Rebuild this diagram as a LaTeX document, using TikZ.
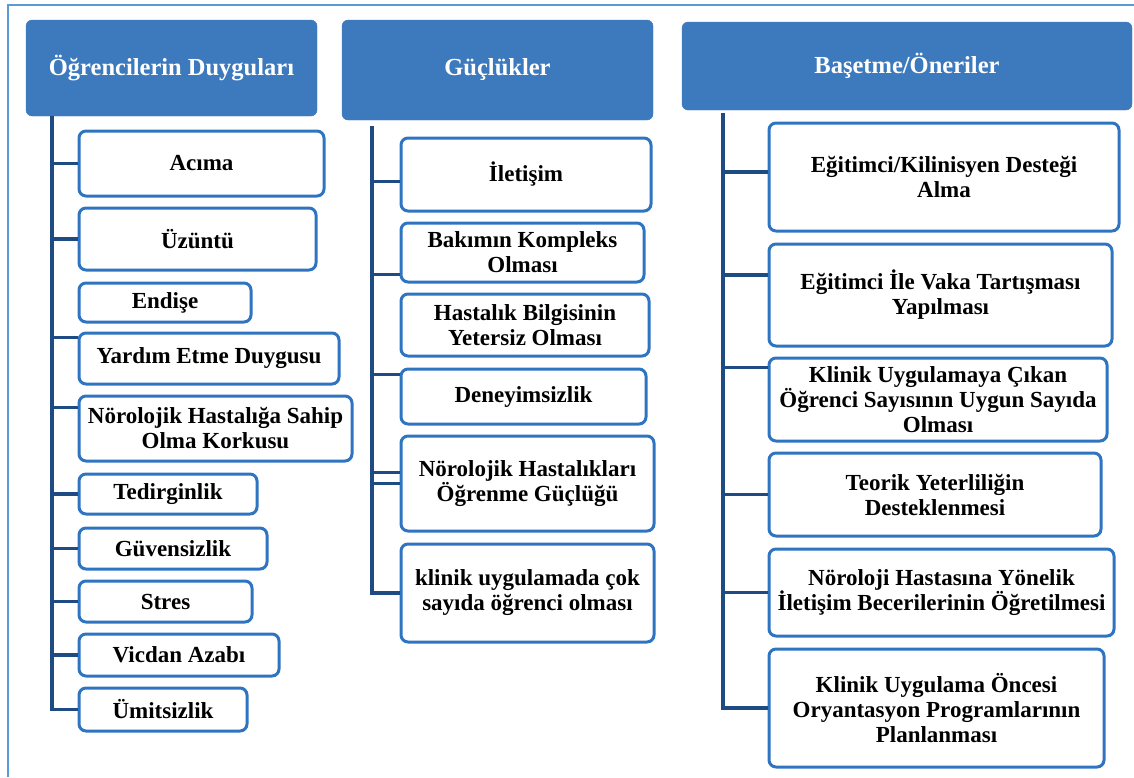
\documentclass[tikz,border=0pt]{standalone}
\usepackage{fontspec}
\setmainfont{Liberation Serif}
\usepackage{tikz}
\usetikzlibrary{positioning}
\definecolor{headblue}{HTML}{3C79BD}
\definecolor{boxblue}{HTML}{2E74C1}
\definecolor{treeblue}{HTML}{1F4B84}
\definecolor{frameblue}{HTML}{5B9BD5}

\begin{document}
\begin{tikzpicture}[x=1pt,y=-1pt,
    head/.style={draw=headblue,fill=headblue,rounded corners=6pt,text=white,font=\fontsize{24.5}{26}\selectfont\bfseries,align=center,inner sep=2pt},
    item/.style={draw=boxblue,line width=3pt,fill=white,rounded corners=7pt,font=\fontsize{23}{25}\selectfont\bfseries,align=center,inner sep=2pt},
    tree/.style={draw=treeblue,line width=3.5pt}]
    \useasboundingbox (0,0) rectangle (1134,777);
    \draw [frameblue,line width=1.2pt] (8,777) -- (8,5) -- (1134,5);

    % headings
    \node (h1) at (171.5,68) [head,minimum width=291pt,minimum height=96pt] {Öğrencilerin Duyguları};
    \node (h2) at (497.5,70) [head,minimum width=311pt,minimum height=100pt] {Güçlükler};
    \node (h3) at (907,66) [head,minimum width=450pt,minimum height=88pt] {Başetme/Öneriler};

    % feelings
    \node (acima) at (201.5,163.5) [item,minimum width=245pt,minimum height=65pt] {Acıma};
    \node (uzuntu) at (197.5,239) [item,minimum width=237pt,minimum height=62pt] {Üzüntü};
    \node (endise) at (165,302.5) [item,minimum width=172pt,minimum height=39pt] {Endişe};
    \node (yardim) at (209,358.5) [item,minimum width=260pt,minimum height=51pt] {Yardım Etme Duygusu};
    \node (korku) at (215.5,428.5) [item,minimum width=273pt,minimum height=65pt] {Nörolojik Hastalığa Sahip\\Olma Korkusu};
    \node (tedirgin) at (168,494) [item,minimum width=178pt,minimum height=40pt] {Tedirginlik};
    \node (guvensiz) at (173,548.5) [item,minimum width=188pt,minimum height=41pt] {Güvensizlik};
    \node (stres) at (165.5,601.5) [item,minimum width=173pt,minimum height=41pt] {Stres};
    \node (vicdan) at (179,655) [item,minimum width=200pt,minimum height=42pt] {Vicdan Azabı};
    \node (umitsiz) at (163,709.5) [item,minimum width=168pt,minimum height=43pt] {Ümitsizlik};

    % difficulties
    \node (iletisim) at (526,174.5) [item,minimum width=250pt,minimum height=73pt] {İletişim};
    \node (bakim) at (522.5,252.5) [item,minimum width=243pt,minimum height=59pt] {Bakımın Kompleks\\Olması};
    \node (bilgi) at (525,325) [item,minimum width=248pt,minimum height=62pt] {Hastalık Bilgisinin\\Yetersiz Olması};
    \node (deneyim) at (523.5,396.5) [item,minimum width=245pt,minimum height=55pt] {Deneyimsizlik};
    \node (ogrenme) at (527.5,483.5) [item,minimum width=253pt,minimum height=95pt] {Nörolojik Hastalıkları\\Öğrenme Güçlüğü};
    \node (kalabalik) at (527.5,593) [item,minimum width=253pt,minimum height=98pt] {klinik uygulamada çok\\sayıda öğrenci olması};

    % coping / suggestions
    \node (destek) at (944,177) [item,minimum width=350pt,minimum height=108pt] {Eğitimci/Kilinisyen Desteği\\Alma};
    \node (vaka) at (940.5,295) [item,minimum width=343pt,minimum height=102pt] {Eğitimci İle Vaka Tartışması\\Yapılması};
    \node (sayi) at (938,399.5) [item,minimum width=338pt,minimum height=83pt] {Klinik Uygulamaya Çıkan\\Öğrenci Sayısının Uygun Sayıda\\Olması};
    \node (teorik) at (935,494.5) [item,minimum width=332pt,minimum height=83pt] {Teorik Yeterliliğin\\Desteklenmesi};
    \node (beceri) at (941.5,592.5) [item,minimum width=345pt,minimum height=87pt] {Nöroloji Hastasına Yönelik\\İletişim Becerilerinin Öğretilmesi};
    \node (oryantasyon) at (936.5,708) [item,minimum width=335pt,minimum height=118pt] {Klinik Uygulama Öncesi\\Oryantasyon Programlarının\\Planlanması};

    % trunks
    \coordinate (t1) at (52,116);
    \coordinate (t2) at (372,126);
    \coordinate (t3) at (723,113);
    \foreach \n/\d in {acima/0,uzuntu/0,yardim/21,korku/21,tedirgin/0,guvensiz/0,stres/0,vicdan/0,umitsiz/0}
      \draw [tree] ([yshift=\d pt]\n.west) -| (t1);
    \foreach \n/\d in {iletisim/-7,bakim/-22,deneyim/22,ogrenme/11,ogrenme/0,kalabalik/0}
      \draw [tree] ([yshift=\d pt]\n.west) -| (t2);
    \foreach \n/\d in {destek/5,vaka/20,sayi/32,teorik/0,beceri/0,oryantasyon/0}
      \draw [tree] ([yshift=\d pt]\n.west) -| (t3);
\end{tikzpicture}
\end{document}
